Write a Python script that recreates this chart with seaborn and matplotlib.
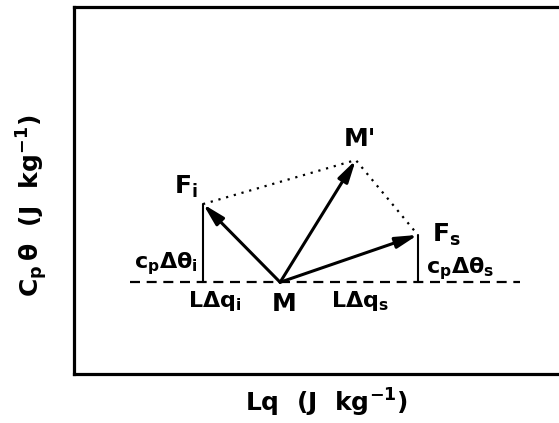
import matplotlib
matplotlib.use("Agg")
import matplotlib.pyplot as plt
import seaborn as sns
import pandas as pd

sns.set_theme(style="white")
plt.rcParams['font.family'] = ['DejaVu Sans']
plt.rcParams['text.color'] = 'black'
plt.rcParams['mathtext.fontset'] = 'custom'
plt.rcParams['mathtext.rm'] = 'DejaVu Sans:bold'
plt.rcParams['mathtext.it'] = 'DejaVu Sans:bold'
plt.rcParams['mathtext.bf'] = 'DejaVu Sans:bold'
plt.rcParams['mathtext.default'] = 'rm'

# points of the diagram (arbitrary units)
M = (4.25, 2.50)
Fi = (2.66, 4.63)
Fs = (7.09, 3.79)
Mp = (5.81, 5.83)
base_x = [1.15, 9.2]

labels = ["$F_i$", "M'", "$F_s$", r"$c_p\Delta\theta_i$", r"$c_p\Delta\theta_s$",
          r"$L\Delta q_i$", "$M$", r"$L\Delta q_s$"]
label_x = [2.31, 5.90, 7.68, 2.56, 7.26, 2.91, 4.31, 5.90]
label_y = [5.10, 6.40, 3.78, 3.00, 2.86, 1.98, 1.90, 1.98]
label_ha = ["center", "center", "center", "right", "left", "center", "center", "center"]
label_size = [18, 18, 18, 16, 16, 16, 18, 16]

fig = plt.figure(figsize=(5.59, 4.23), dpi=100)
ax = fig.add_axes([74 / 559, 49 / 423, 485 / 559, 367 / 423])
ax.set_xlim(0, 10)
ax.set_ylim(0, 10)

# dashed base line through M
base = pd.DataFrame({"x": base_x, "y": [M[1], M[1]]})
sns.lineplot(data=base, x="x", y="y", ax=ax, color="black", lw=1.6,
             linestyle=(0, (4.5, 3)), estimator=None, sort=False)

# vertical legs
for p in (Fi, Fs):
    leg = pd.DataFrame({"x": [p[0], p[0]], "y": [M[1], p[1]]})
    sns.lineplot(data=leg, x="x", y="y", ax=ax, color="black", lw=1.5,
                 estimator=None, sort=False)

# dotted parallelogram sides
dots = pd.DataFrame({"x": [Fi[0], Mp[0], Fs[0]], "y": [Fi[1], Mp[1], Fs[1]]})
sns.lineplot(data=dots, x="x", y="y", ax=ax, color="black", lw=1.6,
             linestyle=(0, (1, 2.6)), estimator=None, sort=False)

# arrows from M
for p in (Fi, Mp, Fs):
    ax.annotate("", xy=p, xytext=M,
                arrowprops=dict(arrowstyle="-|>,head_length=1.1,head_width=0.28",
                                color="black", lw=2.2, shrinkA=0, shrinkB=0))

for t, x, y, ha, s in zip(labels, label_x, label_y, label_ha, label_size):
    ax.text(x, y, t, ha=ha, va="center", fontsize=s, color="black",
            fontweight="bold")

ax.set_xticks([])
ax.set_yticks([])
ax.set_xlabel("")
ax.set_ylabel("")
for side in ("left", "bottom", "top"):
    ax.spines[side].set_color("black")
    ax.spines[side].set_linewidth(2.3)
ax.spines["right"].set_visible(False)

fig.text(326 / 559, 1 - 403 / 423, "$Lq\\ \\ (J\\ \\ kg^{-1})$", ha="center", va="center",
         fontsize=18, color="black")
fig.text(32 / 559, 1 - 206 / 423, r"$C_p\,\theta\ \ (J\ \ kg^{-1})$", ha="center", va="center",
         fontsize=18, rotation=90, color="black")

fig.savefig("out.png", dpi=100)
